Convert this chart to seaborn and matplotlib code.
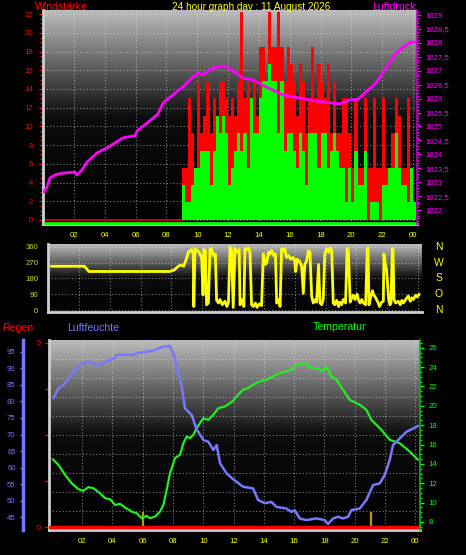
import numpy as np
import pandas as pd
import matplotlib
matplotlib.use("Agg")
import matplotlib.pyplot as plt
import seaborn as sns
from matplotlib.ticker import MultipleLocator, FuncFormatter, FixedLocator
from matplotlib.colors import LinearSegmentedColormap
import matplotlib.transforms as mtransforms

# ---------------- data ----------------
title = "24 hour graph day : 11 August 2026"
hour_ticks = [2, 4, 6, 8, 10, 12, 14, 16, 18, 20, 22, 24]
hour_labels = ["02", "04", "06", "08", "10", "12", "14", "16", "18", "20", "22", "00"]

# Luftdruck (hPa)
press_h = [0.05, 0.25, 0.44, 0.77, 1.28, 2.06, 2.19, 2.52, 2.84, 3.49, 4.14, 4.66, 5.18, 5.83,
           5.96, 6.09, 6.74, 7.45, 7.78, 8.42, 9.07, 9.72, 10.05, 10.37, 11.02, 11.80, 12.32,
           12.97, 13.62, 14.46, 15.56, 16.67, 17.32, 18.16, 19.26, 19.91, 20.43, 20.95, 21.60,
           22.25, 22.90, 23.55, 23.87, 24.20]
press_v = [1022.65, 1022.83, 1023.15, 1023.26, 1023.33, 1023.36, 1023.26, 1023.44, 1023.72,
           1024.05, 1024.23, 1024.41, 1024.59, 1024.66, 1024.66, 1024.84, 1025.12, 1025.45,
           1025.84, 1026.13, 1026.42, 1026.77, 1026.92, 1026.85, 1027.10, 1027.17, 1026.99,
           1026.74, 1026.67, 1026.42, 1026.13, 1026.02, 1025.95, 1025.88, 1025.81, 1025.95,
           1025.98, 1026.24, 1026.56, 1027.10, 1027.64, 1027.92, 1028.03, 1028.03]

# Windstärke (km/h), 12-minute steps from 09:00
wind_start, wind_step = 9.0, 0.2
gust = [5.6, 5.6, 13.0, 9.3, 5.6, 14.8, 9.3, 11.1, 14.8, 9.3,
        13.0, 11.1, 14.8, 14.8, 13.0, 11.1, 13.0, 11.1, 14.8, 22.2,
        13.0, 14.8, 13.0, 14.8, 11.1, 18.5, 18.5, 13.0, 22.2, 18.5,
        18.5, 22.2, 18.5, 14.8, 18.5, 16.7, 14.8, 11.1, 16.7, 14.8,
        9.3, 13.0, 18.5, 13.0, 16.7, 14.8, 13.0, 16.7, 9.3, 14.8,
        9.3, 9.3, 13.0, 13.0, 9.3, 5.6, 13.0, 5.6, 5.6, 13.0,
        5.6, 5.6, 13.0, 5.6, 5.6, 13.0, 5.6, 5.6, 9.3, 13.0,
        11.1, 5.6, 5.6, 13.0, 5.6, 1.9]
avg = [3.7, 1.9, 1.9, 3.7, 5.6, 5.6, 7.4, 7.4, 7.4, 3.7,
       7.4, 11.1, 9.3, 11.1, 9.3, 3.7, 5.6, 7.4, 9.3, 7.4,
       9.3, 5.6, 13.0, 9.3, 9.3, 13.0, 14.8, 14.8, 16.7, 14.8,
       14.8, 9.3, 14.8, 7.4, 9.3, 9.3, 7.4, 5.6, 9.3, 7.4,
       3.7, 9.3, 9.3, 9.3, 5.6, 9.3, 9.3, 5.6, 7.4, 9.3,
       7.4, 5.6, 5.6, 1.9, 5.6, 1.9, 7.4, 3.7, 3.7, 7.4,
       0.0, 1.9, 1.9, 1.9, 0.0, 3.7, 3.7, 5.6, 5.6, 9.3,
       5.6, 3.7, 3.7, 1.9, 5.6, 1.9]

# Windrichtung (degrees)
dir_h = [0.2, 2.35, 2.5, 2.65, 7.9, 8.2, 8.45, 8.6, 8.8, 9.0, 9.1, 9.3, 9.42, 9.45, 9.53, 9.65,
         9.8, 9.96, 10.05, 10.11, 10.2, 10.28, 10.4, 10.5, 10.6, 10.72, 10.85, 10.93, 11.05,
         11.15, 11.3, 11.47, 11.6, 11.7, 11.8, 11.9, 12.01, 12.12, 12.25, 12.4, 12.45, 12.6,
         12.7, 12.77, 12.9, 13.0, 13.1, 13.2, 13.31, 13.45, 13.55, 13.7, 13.85, 13.96, 14.1,
         14.18, 14.3, 14.39, 14.5, 14.65, 14.75, 14.83, 14.95, 15.05, 15.15, 15.25, 15.35,
         15.47, 15.6, 15.75, 15.9, 16.0, 16.06, 16.15, 16.3, 16.45, 16.56, 16.65, 16.77,
         16.9, 16.99, 17.1, 17.2, 17.35, 17.42, 17.55, 17.64, 17.75, 17.85, 17.95, 18.07,
         18.2, 18.29, 18.4, 18.5, 18.6, 18.72, 18.85, 18.93, 19.05, 19.15, 19.3, 19.4, 19.48,
         19.6, 19.7, 19.8, 19.91, 20.05, 20.15, 20.24, 20.35, 20.45, 20.6, 20.71, 20.76,
         20.82, 20.95, 21.05, 21.1, 21.25, 21.42, 21.5, 21.64, 21.75, 21.79, 21.9, 21.96,
         22.1, 22.18, 22.25, 22.33, 22.38, 22.44, 22.55, 22.72, 22.85, 22.95, 23.05, 23.2,
         23.37, 23.5, 23.6, 23.7, 23.85, 23.95, 24.08]
dir_v = [250, 250, 235, 220, 220, 230, 250, 257, 250, 300, 330, 345, 320, 20, 350, 340,
         330, 300, 85, 345, 340, 30, 40, 345, 350, 310, 320, 55, 40,
         60, 30, 50, 20, 45, 360, 340, 15, 350, 330, 345, 30, 60,
         20, 350, 345, 355, 330, 30, 20, 40, 15, 35, 25, 320, 260,
         270, 330, 320, 340, 310, 320, 40, 60, 20, 350, 340, 350,
         300, 310, 290, 300, 280, 220, 290, 280, 250, 95, 260, 280,
         340, 330, 80, 40, 60, 45, 260, 40, 30, 60, 320, 350,
         330, 355, 340, 40, 30, 55, 20, 45, 30, 60, 40, 350, 340,
         45, 70, 85, 60, 90, 55, 40, 60, 40, 30, 350, 355,
         30, 80, 110, 90, 70, 40, 20, 45, 50, 320, 250, 230,
         60, 30, 40, 350, 345, 60, 40, 50, 30, 55, 40, 60,
         80, 50, 70, 60, 85, 75, 90]
dir_labels = ["N", "W", "S", "O", "N"]
dir_label_pos = [360, 270, 180, 90, 0]

# Luftfeuchte (%)
hum_h = [0.11, 0.44, 0.77, 1.21, 1.87, 2.31, 2.64, 2.97, 3.41, 3.85, 4.18, 4.29, 5.39, 5.61,
         6.71, 7.37, 7.81, 8.03, 8.25, 8.58, 8.80, 9.24, 9.57, 9.68, 10.01, 10.34, 10.67,
         10.89, 11.11, 11.55, 11.97, 12.63, 13.29, 13.62, 14.06, 14.50, 14.83, 15.49, 15.82,
         16.04, 16.37, 16.81, 17.47, 18.02, 18.24, 18.57, 18.90, 19.23, 19.56, 19.78, 20.33,
         20.77, 21.21, 21.65, 21.98, 22.31, 22.53, 22.97, 23.41, 24.18]
hum_v = [81.0, 84.0, 85.0, 87.5, 91.1, 91.9, 91.9, 90.9, 91.6, 92.6, 93.1, 94.1, 94.1, 94.6,
         95.4, 96.6, 96.8, 94.6, 90.5, 84.5, 77.9, 75.9, 71.4, 70.8, 68.3, 67.8, 65.3,
         66.8, 61.3, 58.2, 56.5, 54.2, 53.7, 50.2, 49.2, 49.6, 48.1, 47.6, 46.6,
         47.1, 44.6, 44.1, 44.6, 44.1, 42.9, 44.6, 45.1, 44.6, 45.1, 47.1, 47.6,
         50.2, 54.7, 55.2, 57.7, 62.3, 66.8, 68.8, 70.8, 72.6]

# Temperatur (°C)
temp_h = [0.07, 0.44, 0.88, 1.32, 1.76, 2.09, 2.42, 2.75, 3.19, 3.52, 3.85, 4.18, 4.51, 4.84,
          5.28, 5.61, 5.94, 6.27, 6.49, 6.82, 7.15, 7.37, 7.59, 7.81, 8.14, 8.47, 8.69, 8.91,
          9.13, 9.35, 9.57, 10.01, 10.34, 10.67, 11.0, 11.44, 11.97, 12.3, 12.63, 12.96,
          13.29, 13.73, 14.17, 14.61, 15.05, 15.49, 15.82, 16.15, 16.7, 17.14, 17.58, 17.86,
          18.13, 18.46, 18.79, 19.23, 19.67, 20.33, 20.77, 21.1, 21.43, 21.76, 22.31, 22.97,
          23.63, 24.18]
temp_v = [14.49, 13.9, 12.87, 12.0, 11.39, 11.21, 11.6, 11.49, 10.97, 10.46, 10.35, 9.76, 9.87,
          9.49, 9.07, 8.9, 8.39, 8.63, 8.39, 8.55, 9.07, 9.76, 11.32, 13.04, 14.6, 14.93, 16.14,
          16.83, 16.66, 17.0, 17.7, 18.73, 18.55, 19.07, 19.76, 19.93, 20.5, 21.14, 21.66,
          21.83, 22.17, 22.52, 22.69, 23.03, 23.38, 23.55, 23.72, 24.24, 24.42, 23.9, 23.9,
          23.55, 24.07, 23.03, 22.69, 21.66, 20.62, 20.11, 19.59, 18.55, 18.04, 17.52, 16.49,
          16.14, 15.28, 14.42]

# Regen (mm)
rain_h = [-0.2, 24.35]
rain_v = [0.0, 0.0]
sun_marks = [6.03, 21.08]

# ---------------- style ----------------
sns.set_theme(style="dark", rc={"axes.facecolor": "black", "figure.facecolor": "black"})
plt.rcParams["font.family"] = ["Liberation Sans", "DejaVu Sans"]

W, H = 466, 555
fig = plt.figure(figsize=(W / 100, H / 100), dpi=100, facecolor="black")


def rect(x0, y0, x1, y1):
    return [x0 / W, 1 - y1 / H, (x1 - x0) / W, (y1 - y0) / H]


grad_cmap = LinearSegmentedColormap.from_list("g", ["#000000", "#0c0c0c", "#bcbcbc"])


def background(ax):
    x0, x1 = ax.get_xlim()
    y0, y1 = ax.get_ylim()
    g = np.linspace(0, 1, 256).reshape(-1, 1)
    ax.imshow(g, cmap=grad_cmap, origin="lower", aspect="auto",
              extent=[x0, x1, y0, y1], zorder=0, interpolation="bilinear")
    ax.set_xlim(x0, x1)
    ax.set_ylim(y0, y1)


GRID = dict(color="#e0e0e0", linestyle=(0, (1, 2)), linewidth=0.8, alpha=0.55)
LIGHT = "#cfcfcf"
RED, YEL, MAG, GRN, BLU = "#ff0000", "#ffff00", "#ff00ff", "#00ff00", "#7878ff"

fs_title = 7.6
fs_tick = 5.6

# ---------------- top panel: wind + pressure ----------------
ax1 = fig.add_axes(rect(43, 10, 417, 224))
ax1.set_xlim(-0.01, 24.26)
ax1.set_ylim(-0.43, 22.44)
background(ax1)
ax1.set_axisbelow(True)
ax1.set_xticks(hour_ticks)
ax1.set_xticklabels(hour_labels)
ax1.xaxis.set_minor_locator(MultipleLocator(2 / 3))
ax1.set_yticks(range(0, 23, 2))
ax1.yaxis.set_minor_locator(MultipleLocator(0.5))
ax1.grid(True, which="major", **GRID)
ax1.tick_params(axis="x", which="major", colors=YEL, labelsize=fs_tick, length=3, width=0.8, pad=3)
ax1.tick_params(axis="x", which="minor", colors=YEL, length=1.5, width=0.6)
ax1.tick_params(axis="y", which="major", colors=RED, labelsize=fs_tick, length=3, width=1, pad=4)
ax1.tick_params(axis="y", which="minor", colors=RED, length=2, width=0.8)
for s in ["top", "right"]:
    ax1.spines[s].set_visible(False)
for s in ["left", "bottom"]:
    ax1.spines[s].set_color(LIGHT)
    ax1.spines[s].set_linewidth(2)

wind_hours = [round(wind_start + wind_step * i, 2) for i in range(len(gust))]
edge_hours = wind_hours + [round(wind_hours[-1] + wind_step, 2)]
ax1.fill_between(edge_hours, 0, gust + [gust[-1]], step="post", color=RED, lw=0, zorder=2)
ax1.fill_between(edge_hours, 0, avg + [avg[-1]], step="post", color=GRN, lw=0, zorder=3)
ax1.plot([0.1, wind_start], [0, 0], color="#c80000", lw=1.5, zorder=2)
ax1.plot([0.1, 24.2], [-0.3, -0.3], color=GRN, lw=2, zorder=4, clip_on=False)

ax1r = ax1.twinx()
ax1r.set_ylim(1021.50, 1029.18)
sns.lineplot(x=press_h, y=press_v, ax=ax1r, color=MAG, linewidth=2, estimator=None, sort=False)
ax1r.set_yticks(np.arange(1022, 1029.01, 0.5))
ax1r.yaxis.set_minor_locator(MultipleLocator(0.1))
ax1r.yaxis.set_major_formatter(FuncFormatter(lambda v, p: ("%g" % v).replace(".", ",")))
ax1r.tick_params(axis="y", which="major", colors=MAG, labelsize=fs_tick, length=3, width=1, pad=3)
ax1r.tick_params(axis="y", which="minor", colors=MAG, length=1.5, width=0.8)
ax1r.grid(False)
for s in ["top", "left", "bottom"]:
    ax1r.spines[s].set_visible(False)
ax1r.spines["right"].set_color("#c000c0")
ax1r.spines["right"].set_linestyle((0, (1, 1)))
ax1r.spines["right"].set_linewidth(1.2)
ax1r.set_xlabel("")
ax1r.set_ylabel("")

fig.text(35 / W, 1 - 7 / H, "Windstärke", color=RED, fontsize=fs_title, va="center", ha="left")
fig.text(251 / W, 1 - 7 / H, title, color=YEL, fontsize=7.2, va="center", ha="center")
fig.text(372 / W, 1 - 7 / H, "Luftdruck", color=MAG, fontsize=fs_title, va="center", ha="left")

# ---------------- middle panel: wind direction ----------------
ax2 = fig.add_axes(rect(48, 244, 422, 312))
ax2.set_xlim(-0.01, 24.26)
ax2.set_ylim(-11.4, 377)
background(ax2)
ax2.set_axisbelow(True)
ax2.set_xticks(hour_ticks)
ax2.set_xticklabels([])
ax2.set_yticks([0, 90, 180, 270, 360])
ax2.yaxis.set_minor_locator(MultipleLocator(22.5))
ax2.grid(True, which="major", **GRID)
ax2.tick_params(axis="x", length=0)
ax2.tick_params(axis="y", which="major", colors="#d6d63a", labelsize=fs_tick, length=3, width=1, pad=4)
ax2.tick_params(axis="y", which="minor", colors="#b8b830", length=2, width=0.8)
for s in ["top", "right"]:
    ax2.spines[s].set_visible(False)
for s in ["left", "bottom"]:
    ax2.spines[s].set_color(LIGHT)
    ax2.spines[s].set_linewidth(2)
sns.lineplot(x=dir_h, y=dir_v, ax=ax2, color=YEL, linewidth=2.0, estimator=None, sort=False, zorder=3)
ax2.set_xlabel("")
ax2.set_ylabel("")
trans2 = mtransforms.blended_transform_factory(ax2.transAxes, ax2.transData)
for lab, pos in zip(dir_labels, dir_label_pos):
    ax2.text((439 - 48) / 374, pos, lab, transform=trans2, color=YEL, fontsize=7.5,
             ha="center", va="center", clip_on=False)

# ---------------- bottom panel: rain, humidity, temperature ----------------
ax3 = fig.add_axes(rect(49, 340, 420, 530))
ax3.set_xlim(-0.18, 24.31)
ax3.set_ylim(-0.08, 5.08)
background(ax3)
ax3.set_axisbelow(True)
ax3.set_xticks(hour_ticks)
ax3.set_xticklabels(hour_labels)
ax3.xaxis.set_minor_locator(MultipleLocator(2 / 3))
ax3.set_yticks([0, 1.25, 2.5, 3.75, 5])
ax3.set_yticklabels(["0", "", "", "", "5"])
ax3.grid(True, axis="x", which="major", **GRID)
ax3.grid(False, axis="y")
for f in np.arange(0.1, 1.0, 0.1):
    ax3.plot([0, 1], [f, f], transform=ax3.transAxes, zorder=0.6, **GRID)
ax3.tick_params(axis="x", which="major", colors=YEL, labelsize=fs_tick, length=3, width=0.8, pad=3)
ax3.tick_params(axis="x", which="minor", colors=YEL, length=1.5, width=0.6)
ax3.tick_params(axis="y", colors=RED, labelsize=fs_tick, length=3, width=1, pad=3)
for s in ["top", "right"]:
    ax3.spines[s].set_visible(False)
for s in ["left", "bottom"]:
    ax3.spines[s].set_color(LIGHT)
    ax3.spines[s].set_linewidth(2)
ax3.vlines(sun_marks, 0, 0.42, color="#b89a00", lw=1.6, zorder=2)
sns.lineplot(x=rain_h, y=rain_v, ax=ax3, color=RED, linewidth=2.5, estimator=None, sort=False, zorder=3)
ax3.set_xlabel("")
ax3.set_ylabel("")

ax3t = ax3.twinx()
ax3t.set_ylim(7.17, 26.8)
sns.lineplot(x=temp_h, y=temp_v, ax=ax3t, color="#22ee22", linewidth=1.6, estimator=None, sort=False)
ax3t.set_yticks(range(8, 27, 2))
ax3t.yaxis.set_minor_locator(MultipleLocator(0.5))
ax3t.tick_params(axis="y", which="major", colors=GRN, labelsize=fs_tick, length=3, width=1, pad=3)
ax3t.tick_params(axis="y", which="minor", colors=GRN, length=1.5, width=0.8)
ax3t.grid(False)
for s in ["top", "left", "bottom"]:
    ax3t.spines[s].set_visible(False)
ax3t.spines["right"].set_color("#00c000")
ax3t.spines["right"].set_linestyle((0, (1, 1)))
ax3t.spines["right"].set_linewidth(1.2)
ax3t.set_xlabel("")
ax3t.set_ylabel("")

ax3h = ax3.twinx()
ax3h.set_ylim(41.1, 98.6)
sns.lineplot(x=hum_h, y=hum_v, ax=ax3h, color=BLU, linewidth=1.8, estimator=None, sort=False)
ax3h.yaxis.tick_left()
ax3h.yaxis.set_label_position("left")
ax3h.spines["left"].set_visible(True)
ax3h.spines["left"].set_position(("outward", 19))
ax3h.spines["left"].set_color(BLU)
ax3h.spines["left"].set_linewidth(2.5)
for s in ["top", "right", "bottom"]:
    ax3h.spines[s].set_visible(False)
ax3h.set_yticks(range(45, 96, 5))
ax3h.yaxis.set_minor_locator(MultipleLocator(1))
ax3h.tick_params(axis="y", which="major", colors=BLU, labelsize=fs_tick, length=2, width=1, pad=3)
ax3h.tick_params(axis="y", which="minor", colors=BLU, length=1, width=0.6)
ax3h.grid(False)
ax3h.set_xlabel("")
ax3h.set_ylabel("")

fig.text(2 / W, 1 - 328 / H, "Regen", color=RED, fontsize=fs_title, va="center", ha="left")
fig.text(67 / W, 1 - 328 / H, "Luftfeuchte", color=BLU, fontsize=fs_title, va="center", ha="left")
fig.text(313 / W, 1 - 327 / H, "Temperatur", color=GRN, fontsize=fs_title, va="center", ha="left")

fig.savefig("out.png", dpi=100, facecolor="black")
